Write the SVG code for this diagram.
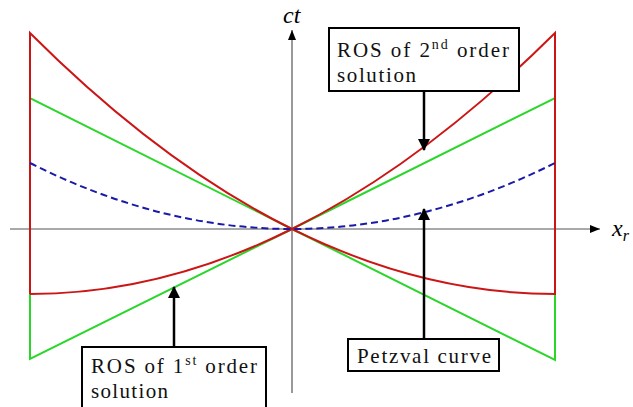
<svg xmlns="http://www.w3.org/2000/svg" width="633" height="407" viewBox="0 0 633 407">
<defs>
<marker id="ah" viewBox="0 0 10 8" refX="10" refY="4" markerWidth="10" markerHeight="8" markerUnits="userSpaceOnUse" orient="auto"><path d="M0,0 L10,4 L0,8 Z" fill="#000"/></marker>
<marker id="bh" viewBox="0 0 12 12" refX="11" refY="6" markerWidth="5" markerHeight="5" orient="auto"><path d="M0,0 L12,6 L0,12 Z" fill="#000"/></marker>
</defs>
<g id="axes">
<g stroke="#555" stroke-width="1.2" fill="none">
<line x1="10" y1="229" x2="600" y2="229" marker-end="url(#ah)"/>
<line x1="292" y1="393" x2="292" y2="30" marker-end="url(#ah)"/>
</g>
<text x="283" y="23" font-family="'Liberation Serif', serif" font-style="italic" font-size="24">ct</text>
<text x="612" y="236" font-family="'Liberation Serif', serif" font-style="italic" font-size="24">x<tspan font-size="16" dy="5">r</tspan></text>
</g>
<g id="curves" stroke-width="2" fill="none">
<path stroke="#2ad62a" d="M30,98 L30,359 L292,229 L555,98 L555,360 L292,229 Z"/>
<path stroke="#cc1515" d="M30,294 L30,33 Q161,164 292,229 Q423,164 555,33 L555,294 Q423,294 292,229 Q161,294 30,294"/>
<path stroke="#1a1aa8" stroke-dasharray="7,4" d="M30,163 Q161,229 292,229 Q423,229 555,163"/>
</g>
<g id="connectors" stroke="#000" stroke-width="2.5" fill="none">
<line x1="424" y1="91" x2="424" y2="150" marker-end="url(#bh)"/>
<line x1="174" y1="347" x2="174" y2="287" marker-end="url(#bh)"/>
<line x1="424" y1="339" x2="424" y2="209" marker-end="url(#bh)"/>
</g>
<g font-family="'Liberation Serif', serif" font-size="21" fill="#111">
<g id="box2">
<rect fill="#fff" stroke="#000" stroke-width="2" x="329" y="28" width="190" height="63"/>
<text x="337" y="57" textLength="172" lengthAdjust="spacing">ROS of 2<tspan font-size="14" dy="-8">nd</tspan><tspan dy="8"> order</tspan></text>
<text x="337" y="82" textLength="79" lengthAdjust="spacing">solution</text>
</g>
<g id="box1">
<rect fill="#fff" stroke="#000" stroke-width="2" x="82" y="347" width="184" height="70"/>
<text x="91" y="373" textLength="166" lengthAdjust="spacing">ROS of 1<tspan font-size="14" dy="-8">st</tspan><tspan dy="8"> order</tspan></text>
<text x="91" y="398" textLength="77" lengthAdjust="spacing">solution</text>
</g>
<g id="petzval">
<rect fill="#fff" stroke="#000" stroke-width="2" x="348" y="339" width="151" height="32"/>
<text x="357" y="363" textLength="134" lengthAdjust="spacing">Petzval curve</text>
</g>
</g>
</svg>
